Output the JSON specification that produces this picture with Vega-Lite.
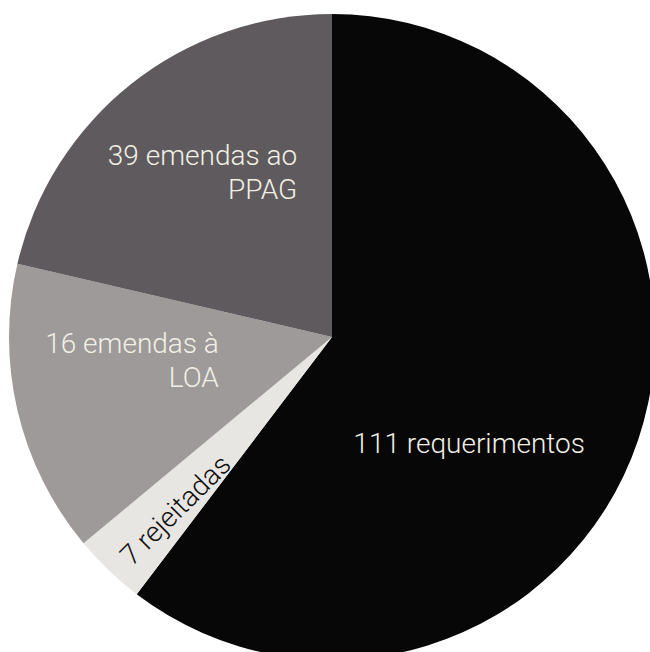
{
  "$schema": "https://vega.github.io/schema/vega-lite/v6.json",
  "width": 636,
  "height": 632,
  "autosize": {"type": "none"},
  "padding": {"left": 14, "top": 21, "right": 0, "bottom": 0},
  "background": "white",
  "view": {"stroke": null},
  "data": {
    "values": [
      {"ordem": 1, "categoria": "requerimentos", "rotulo": "111 requerimentos", "fatia": 217.2},
      {"ordem": 2, "categoria": "rejeitadas", "rotulo": "7 rejeitadas", "fatia": 13.1},
      {"ordem": 3, "categoria": "emendas LOA", "rotulo": "16 emendas à\nLOA", "fatia": 52.8},
      {"ordem": 4, "categoria": "emendas PPAG", "rotulo": "39 emendas ao\nPPAG", "fatia": 76.9}
    ]
  },
  "encoding": {
    "theta": {"field": "fatia", "type": "quantitative", "stack": true},
    "order": {"field": "ordem", "type": "quantitative"}
  },
  "layer": [
    {
      "mark": {"type": "arc", "outerRadius": 323, "strokeWidth": 0},
      "encoding": {
        "color": {
          "field": "categoria",
          "type": "nominal",
          "scale": {
            "domain": ["requerimentos", "rejeitadas", "emendas LOA", "emendas PPAG"],
            "range": ["#070707", "#e8e6e2", "#9d9a99", "#5f5a5e"]
          },
          "legend": null
        }
      }
    },
    {
      "mark": {"type": "text", "radius": 150, "align": "center", "baseline": "alphabetic", "dx": -5, "dy": 68, "font": "Roboto", "fontSize": 28, "fontWeight": 300, "fill": "#f2f0e6"},
      "encoding": {"text": {"condition": {"test": "datum.ordem == 1", "field": "rotulo", "type": "nominal"}, "value": ""}}
    },
    {
      "mark": {"type": "text", "radius": 236, "align": "center", "baseline": "middle", "angle": 315, "dx": 3, "dy": 8, "font": "Roboto", "fontSize": 28, "fontWeight": 300, "fill": "#111111"},
      "encoding": {"text": {"condition": {"test": "datum.ordem == 2", "field": "rotulo", "type": "nominal"}, "value": ""}}
    },
    {
      "mark": {"type": "text", "radius": 70, "align": "right", "baseline": "alphabetic", "dx": -45, "dy": 0, "lineBreak": "\n", "lineHeight": 34, "font": "Roboto", "fontSize": 28, "fontWeight": 300, "fill": "#f2f0e6"},
      "encoding": {"text": {"condition": {"test": "datum.ordem == 3", "field": "rotulo", "type": "nominal"}, "value": ""}}
    },
    {
      "mark": {"type": "text", "radius": 220, "align": "right", "baseline": "alphabetic", "dx": 102, "dy": 0, "lineBreak": "\n", "lineHeight": 34, "font": "Roboto", "fontSize": 28, "fontWeight": 300, "fill": "#f2f0e6"},
      "encoding": {"text": {"condition": {"test": "datum.ordem == 4", "field": "rotulo", "type": "nominal"}, "value": ""}}
    }
  ]
}
